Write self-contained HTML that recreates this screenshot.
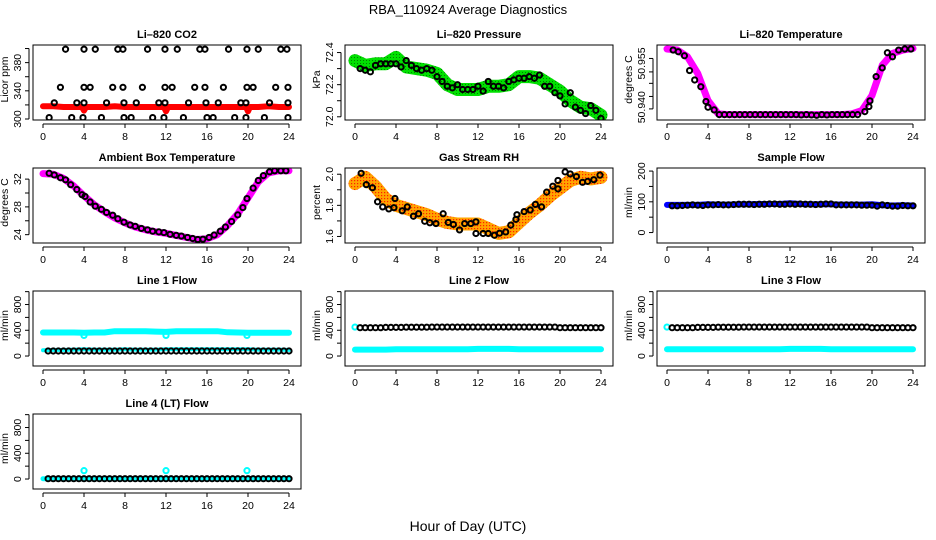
<!DOCTYPE html>
<html><head><meta charset="utf-8">
<style>
html,body{margin:0;padding:0;background:#fff;}
svg{display:block;font-family:"Liberation Sans",Arial,sans-serif;}
.t{font-size:11px;font-weight:bold;text-anchor:middle;}
.k{font-size:10.5px;text-anchor:middle;}
</style></head>
<body>
<svg id="c" width="936" height="540" viewBox="0 0 936 540">
<defs>
<pattern id="rhpat" width="3" height="3" patternUnits="userSpaceOnUse"><rect width="3" height="3" fill="#ffa500"/><rect width="1.2" height="1.2" fill="#ff2000"/></pattern>
<pattern id="prpat" width="3" height="3" patternUnits="userSpaceOnUse"><rect width="3" height="3" fill="#00e000"/><rect width="1" height="1" fill="#008000"/></pattern>
</defs>
<text x="468" y="14" font-size="13" text-anchor="middle">RBA_110924  Average Diagnostics</text>
<text x="468" y="531" font-size="14" text-anchor="middle">Hour of Day (UTC)</text>
</svg>
<script>
// ---- data ----
const hours48 = [0.5,1,1.5,2,2.5,3,3.5,4,4.5,5,5.5,6,6.5,7,7.5,8,8.5,9,9.5,10,10.5,11,11.5,12,12.5,13,13.5,14,14.5,15,15.5,16,16.5,17,17.5,18,18.5,19,19.5,20,20.5,21,21.5,22,22.5,23,23.5,24];
const hours25 = [0,1,2,3,4,5,6,7,8,9,10,11,12,13,14,15,16,17,18,19,20,21,22,23,24];
const hourTicks = [0,4,8,12,16,20,24];

// CO2
const co2PtHours = [2.2,4,5.1,7.3,7.8,10.2,11.9,13.1,15.3,15.8,18.1,19.9,21,23.2,23.8, 1.7,4,4.6,6.8,7.8,9.7,11.9,12.6,14.8,15.8,17.6,19.9,20.5,22.7,23.9, 1.1,3.3,4,6.2,7.9,9.1,11.3,11.9,14.2,15.9,17.1,19.3,19.8,22.1,23.9, 0.6,2.8,3.9,5.7,7.9,8.6,10.7,11.8,13.7,16,16.6,18.7,19.8,21.6,23.9];
const co2PtValues = [399,399,399,399,399,399,399,399,399,399,399,399,399,399,399, 345,345,345,345,345,345,345,345,345,345,345,345,345,345,345, 323,323,323,323,323,323,323,323,323,323,323,323,323,323,323, 302,302,302,302,302,302,302,302,302,302,302,302,302,302,302];
const co2BandHours = [0,1,2,3,3.8,4,4.2,5,6,7,8,9,10,11,11.8,12,12.2,13,14,15,16,17,18,19,19.8,20,20.2,21,22,23,24];
const co2BandValues = [318,318,317,317,317,312,317,317,317,318,317,317,317,317,317,311,317,317,317,317,317,317,317,317,317,311,317,317,318,317,317];

// Pressure
const presPts = [72.30,72.29,72.28,72.32,72.33,72.33,72.33,72.33,72.31,72.35,72.32,72.30,72.29,72.30,72.29,72.25,72.22,72.19,72.18,72.20,72.17,72.17,72.17,72.19,72.16,72.22,72.19,72.19,72.18,72.22,72.23,72.24,72.24,72.25,72.24,72.26,72.19,72.19,72.15,72.13,72.08,72.15,72.06,72.04,72.02,72.07,72.04,71.99];
const presBand = [72.35,72.32,72.33,72.33,72.37,72.31,72.30,72.29,72.27,72.20,72.17,72.17,72.17,72.19,72.19,72.20,72.25,72.25,72.24,72.20,72.16,72.10,72.06,72.05,72.01];

// Li-820 Temperature
const tempPtHours = [0.6,1.1,1.7,2.2,2.7,3.3,3.8,4,4.6,5.1,5.6,6.1,6.6,7.1,7.6,8.1,8.6,9.1,9.6,10.1,10.6,11.1,11.6,12.1,12.6,13.1,13.6,14.1,14.6,15.1,15.6,16.1,16.6,17.1,17.6,18.1,18.6,19.3,19.7,19.8,20.4,21,21.5,22,22.6,23.2,23.8];
const tempPtValues = [50.9575,50.957,50.9558,50.9514,50.9486,50.9466,50.9422,50.9405,50.9397,50.9383,50.9383,50.9383,50.9383,50.9383,50.9383,50.9383,50.9383,50.9383,50.9383,50.9383,50.9383,50.9383,50.9383,50.9383,50.9383,50.9382,50.9383,50.9382,50.9381,50.9383,50.9382,50.9383,50.9383,50.9383,50.9383,50.9383,50.9383,50.9392,50.9407,50.9424,50.9496,50.9522,50.9567,50.9555,50.9575,50.9578,50.9578];
const tempBand = [50.9578,50.9575,50.9555,50.9505,50.9425,50.9385,50.9383,50.9383,50.9383,50.9383,50.9383,50.9383,50.9383,50.9383,50.9383,50.9383,50.9383,50.9383,50.9385,50.9395,50.9440,50.9530,50.9565,50.9575,50.9580];

// Ambient
const ambPtHours = [0.6,1.1,1.7,2.2,2.7,3.3,3.8,4.1,4.6,5.1,5.7,6.2,6.8,7.3,7.9,8.5,9,9.6,10.2,10.7,11.3,11.8,12.4,13,13.5,14.1,14.6,15.1,15.6,16.2,16.7,17.3,17.8,18.4,19,19.5,19.9,20.5,21,21.5,22.1,22.6,23.2,23.7];
const ambPtValues = [32.84,32.6,32.2,31.9,31.2,30.5,29.75,29.5,28.7,28.1,27.65,27.2,26.8,26.3,25.8,25.4,25.2,24.9,24.7,24.5,24.4,24.3,24.05,23.9,23.8,23.6,23.45,23.3,23.35,23.6,23.95,24.5,25.1,25.9,26.85,27.9,29.2,30.7,31.8,32.5,33.05,33.2,33.2,33.2];
const ambBand = [32.8,32.7,32.1,31.0,29.6,28.3,27.3,26.4,25.7,25.1,24.7,24.4,24.2,23.9,23.6,23.3,23.4,24.0,25.3,27.0,29.3,31.6,32.9,33.2,33.2];

// RH
const rhPtHours = [0.6,1.1,1.7,2.2,2.7,3.3,3.8,3.9,4.6,5.1,5.7,6.2,6.8,7.3,7.9,8.6,9.1,9.6,10.2,10.7,11.3,11.8,11.8,12.5,13,13.6,14.1,14.7,15.2,15.7,15.8,16.5,17.1,17.6,18.2,18.7,19.3,19.8,19.8,20.5,21,21.6,22.2,22.7,23.3,23.9];
const rhPtValues = [2.006,1.933,1.913,1.823,1.79,1.777,1.785,1.844,1.765,1.79,1.73,1.746,1.698,1.688,1.683,1.746,1.69,1.677,1.642,1.683,1.683,1.694,1.619,1.619,1.619,1.608,1.621,1.629,1.673,1.71,1.74,1.76,1.77,1.806,1.79,1.885,1.923,1.96,1.906,2.015,2.002,1.985,1.948,1.954,1.965,1.994];
const rhBand = [1.94,1.98,1.92,1.84,1.80,1.78,1.76,1.74,1.71,1.69,1.68,1.68,1.68,1.65,1.62,1.63,1.69,1.75,1.80,1.86,1.91,1.96,1.98,1.97,1.98];

// Sample flow
const sfPts = [87,87,88,89,90,89,88,90,90,91,90,90,91,92,92,92,91,92,92,93,93,92,92,93,92,93,92,92,91,92,93,93,90,90,90,90,90,89,89,89,86,90,88,86,86,88,87,87];
const sfBand = [90,90,90,90,92,91,91,92,92,93,93,93,95,93,92,92,92,91,91,91,92,89,88,89,88];

// Line flows
const l1Pts = [78,78,78,78,78,78,78,78,78,78,78,78,78,78,78,78,78,78,78,78,78,78,78,78,78,78,78,78,78,78,78,78,78,78,78,78,78,78,78,78,78,78,78,78,78,78,78,78];
const l1HiBand = [365,365,365,365,362,365,365,385,385,385,385,380,375,385,385,385,385,385,368,365,362,362,362,362,362];
const l1LoBand = [90,95,95,100,105,100,100,100,105,100,100,100,105,105,105,105,105,105,105,105,105,100,100,100,95];
const l1DipHours = [4,12,19.9];
const l1DipValues = [320,320,320];
const l2Pts = [440,440,440,440,440,445,445,445,445,448,448,448,448,448,450,450,450,450,450,450,450,450,450,450,450,450,450,450,450,450,450,450,450,450,450,450,450,450,450,440,440,440,440,440,440,440,440,440];
const l2Band = [100,100,100,100,105,105,105,105,105,105,105,105,110,110,110,110,105,105,105,105,105,105,105,105,105];
const l3Pts = [440,440,440,440,440,445,445,445,445,448,448,448,448,448,450,450,450,450,450,450,450,450,450,450,450,450,450,450,450,450,450,450,450,450,450,450,450,450,450,440,440,440,440,440,440,440,440,440];
const l3Band = [105,105,105,105,105,105,105,105,105,105,105,105,110,110,110,110,105,105,105,105,105,105,105,105,105];
const l4Pts = [5,5,5,5,5,5,5,5,5,5,5,5,5,5,5,5,5,5,5,5,5,5,5,5,5,5,5,5,5,5,5,5,5,5,5,5,5,5,5,5,5,5,5,5,5,5,5,5];
const l4Band = [5,5,5,5,5,5,5,5,5,5,5,5,5,5,5,5,5,5,5,5,5,5,5,5,5];
const l4SpikeHours = [4,12,19.9];
const l4SpikeValues = [130,130,130];

// ---- drawing ----
const svg = document.getElementById('c');
const NS = 'http://www.w3.org/2000/svg';
function el(tag, attrs, parent){
  const e = document.createElementNS(NS, tag);
  for (const k in attrs) e.setAttribute(k, attrs[k]);
  (parent||svg).appendChild(e);
  return e;
}
const BW = 268, BH = 75;
function makePanel(cfg){
  const g = el('g', {});
  
  
  const L = cfg.x, T = cfg.y;
  const sx = h => L + 10 + h * (246/24);
  const sy = v => T + BH - (v - cfg.ymin) / (cfg.ymax - cfg.ymin) * BH;
  const clipId = 'clip-' + cfg.name;
  const cp = el('clipPath', {id: clipId}, g);
  el('rect', {x: L, y: T, width: BW, height: BH}, cp);
  const data = el('g', {'clip-path': 'url(#' + clipId + ')'}, g);
  (cfg.bands||[]).forEach(b => {
    const d = b.h.map((h,i) => (i?'L':'M') + sx(h).toFixed(1) + ',' + sy(b.v[i]).toFixed(1)).join('');
    const p = el('path', {d: d, fill: 'none', stroke: b.color, 'stroke-width': b.w, 'stroke-linejoin': 'round', 'stroke-linecap': 'round'}, data);
    
    
  });
  (cfg.points||[]).forEach(s => {
    s.h.forEach((h,i) => {
      const c = el('circle', {cx: sx(h), cy: sy(s.v[i]), r: s.r||2.6, fill: 'none', stroke: s.color, 'stroke-width': s.sw||2}, data);
      
      
    });
  });
  const box = el('rect', {x: L, y: T, width: BW, height: BH, fill: 'none', stroke: '#000', 'stroke-width': 1}, g);
  
  
  const t = el('text', {x: L + BW/2, y: T - 7, class: 't'}, g);
  t.textContent = cfg.title;
  
  
  el('line', {x1: sx(0), x2: sx(24), y1: T+BH+4, y2: T+BH+4, stroke: '#000'}, g);
  hourTicks.forEach(h => {
    el('line', {x1: sx(h), x2: sx(h), y1: T+BH+4, y2: T+BH+8, stroke: '#000'}, g);
    const tx = el('text', {x: sx(h), y: T+BH+20, class: 'k'}, g);
    tx.textContent = h;
    
    
  });
  const yt = cfg.yticks;
  el('line', {x1: L-4, x2: L-4, y1: sy(yt[0]), y2: sy(yt[yt.length-1]), stroke: '#000'}, g);
  yt.forEach(v => el('line', {x1: L-8, x2: L-4, y1: sy(v), y2: sy(v), stroke: '#000'}, g));
  cfg.ylabels.forEach((lab,i) => {
    const yy = sy(cfg.ylabelVals[i]);
    const tx = el('text', {x: L-12, y: yy, class: 'k', transform: 'rotate(-90 ' + (L-12) + ' ' + yy + ')'}, g);
    tx.textContent = lab;
    
    
  });
  const yl = T + BH/2 - 3;
  const ylab = el('text', {x: L-25, y: yl, class: 'k', 'font-size': '10.5', transform: 'rotate(-90 ' + (L-25) + ' ' + yl + ')'}, g);
  ylab.textContent = cfg.ylab;
  
  
}
const C1 = 33, C2 = 345, C3 = 657;
const R1 = 45, R2 = 168, R3 = 291, R4 = 414;
const flowTicks = [0,200,400,600,800,1000];
makePanel({name:'co2', title:'Li\u2013820 CO2', ylab:'Licor ppm', x:C1, y:R1, ymin:298.6, ymax:405,
  yticks:[300,320,340,360,380,400], ylabels:['300','340','380'], ylabelVals:[300,340,380],
  bands:[{name:'co2-band', h:co2BandHours, v:co2BandValues, color:'#ff0000', w:6}],
  points:[{name:'co2-average-point', h:co2PtHours, v:co2PtValues, color:'#000'}]});
makePanel({name:'pressure', title:'Li\u2013820 Pressure', ylab:'kPa', x:C2, y:R1, ymin:71.98, ymax:72.447,
  yticks:[72.0,72.1,72.2,72.3,72.4], ylabels:['72.0','72.2','72.4'], ylabelVals:[72.0,72.2,72.4],
  bands:[{name:'pressure-band', h:hours25, v:presBand, color:'url(#prpat)', w:13}],
  points:[{name:'pressure-average-point', h:hours48, v:presPts, color:'#000'}]});
makePanel({name:'li820-temp', title:'Li\u2013820 Temperature', ylab:'degrees C', x:C3, y:R1, ymin:50.9367, ymax:50.959,
  yticks:[50.940,50.9437,50.9476,50.951,50.955], ylabels:['50.940','50.955'], ylabelVals:[50.9405,50.9535],
  bands:[{name:'li820-temp-band', h:hours25, v:tempBand, color:'#ff00ff', w:7}],
  points:[{name:'li820-temp-average-point', h:tempPtHours, v:tempPtValues, color:'#000'}]});
makePanel({name:'ambient', title:'Ambient Box Temperature', ylab:'degrees C', x:C1, y:R2, ymin:22.8, ymax:33.6,
  yticks:[24,26,28,30,32], ylabels:['24','28','32'], ylabelVals:[24,28,32],
  bands:[{name:'ambient-band', h:hours25, v:ambBand, color:'#ff00ff', w:7}],
  points:[{name:'ambient-average-point', h:ambPtHours, v:ambPtValues, color:'#000'}]});
makePanel({name:'rh', title:'Gas Stream RH', ylab:'percent', x:C2, y:R2, ymin:1.558, ymax:2.04,
  yticks:[1.6,1.7,1.8,1.9,2.0], ylabels:['1.6','1.8','2.0'], ylabelVals:[1.6,1.8,2.0],
  bands:[{name:'rh-band', h:hours25, v:rhBand, color:'url(#rhpat)', w:13}],
  points:[{name:'rh-average-point', h:rhPtHours, v:rhPtValues, color:'#000'}]});
makePanel({name:'sample-flow', title:'Sample Flow', ylab:'ml/min', x:C3, y:R2, ymin:-34, ymax:210,
  yticks:[0,50,100,150,200], ylabels:['0','100','200'], ylabelVals:[0,100,200],
  bands:[{name:'sample-flow-band', h:hours25, v:sfBand, color:'#0000ff', w:6}],
  points:[{name:'sample-flow-average-point', h:hours48, v:sfPts, color:'#000'}]});
makePanel({name:'line1', title:'Line 1 Flow', ylab:'ml/min', x:C1, y:R3, ymin:-155, ymax:1010,
  yticks:flowTicks, ylabels:['0','400','800'], ylabelVals:[0,400,800],
  bands:[{name:'line1-high-band', h:hours25, v:l1HiBand, color:'#00ffff', w:6},{name:'line1-low-band', h:hours25, v:l1LoBand, color:'#00ffff', w:4}],
  points:[{name:'line1-dip-point', h:l1DipHours, v:l1DipValues, color:'#00ffff', sw:2},{name:'line1-average-point', h:hours48, v:l1Pts, color:'#000'}]});
makePanel({name:'line2', title:'Line 2 Flow', ylab:'ml/min', x:C2, y:R3, ymin:-155, ymax:1010,
  yticks:flowTicks, ylabels:['0','400','800'], ylabelVals:[0,400,800],
  bands:[{name:'line2-band', h:hours25, v:l2Band, color:'#00ffff', w:6}],
  points:[{name:'line2-start-point', h:[0], v:[450], color:'#00ffff', sw:2},{name:'line2-average-point', h:hours48, v:l2Pts, color:'#000'}]});
makePanel({name:'line3', title:'Line 3 Flow', ylab:'ml/min', x:C3, y:R3, ymin:-155, ymax:1010,
  yticks:flowTicks, ylabels:['0','400','800'], ylabelVals:[0,400,800],
  bands:[{name:'line3-band', h:hours25, v:l3Band, color:'#00ffff', w:6}],
  points:[{name:'line3-start-point', h:[0], v:[450], color:'#00ffff', sw:2},{name:'line3-average-point', h:hours48, v:l3Pts, color:'#000'}]});
makePanel({name:'line4', title:'Line 4 (LT) Flow', ylab:'ml/min', x:C1, y:R4, ymin:-155, ymax:1010,
  yticks:flowTicks, ylabels:['0','400','800'], ylabelVals:[0,400,800],
  bands:[{name:'line4-band', h:hours25, v:l4Band, color:'#00ffff', w:5}],
  points:[{name:'line4-spike-point', h:l4SpikeHours, v:l4SpikeValues, color:'#00ffff', sw:2},{name:'line4-average-point', h:hours48, v:l4Pts, color:'#000'}]});
</script>
</body></html>
